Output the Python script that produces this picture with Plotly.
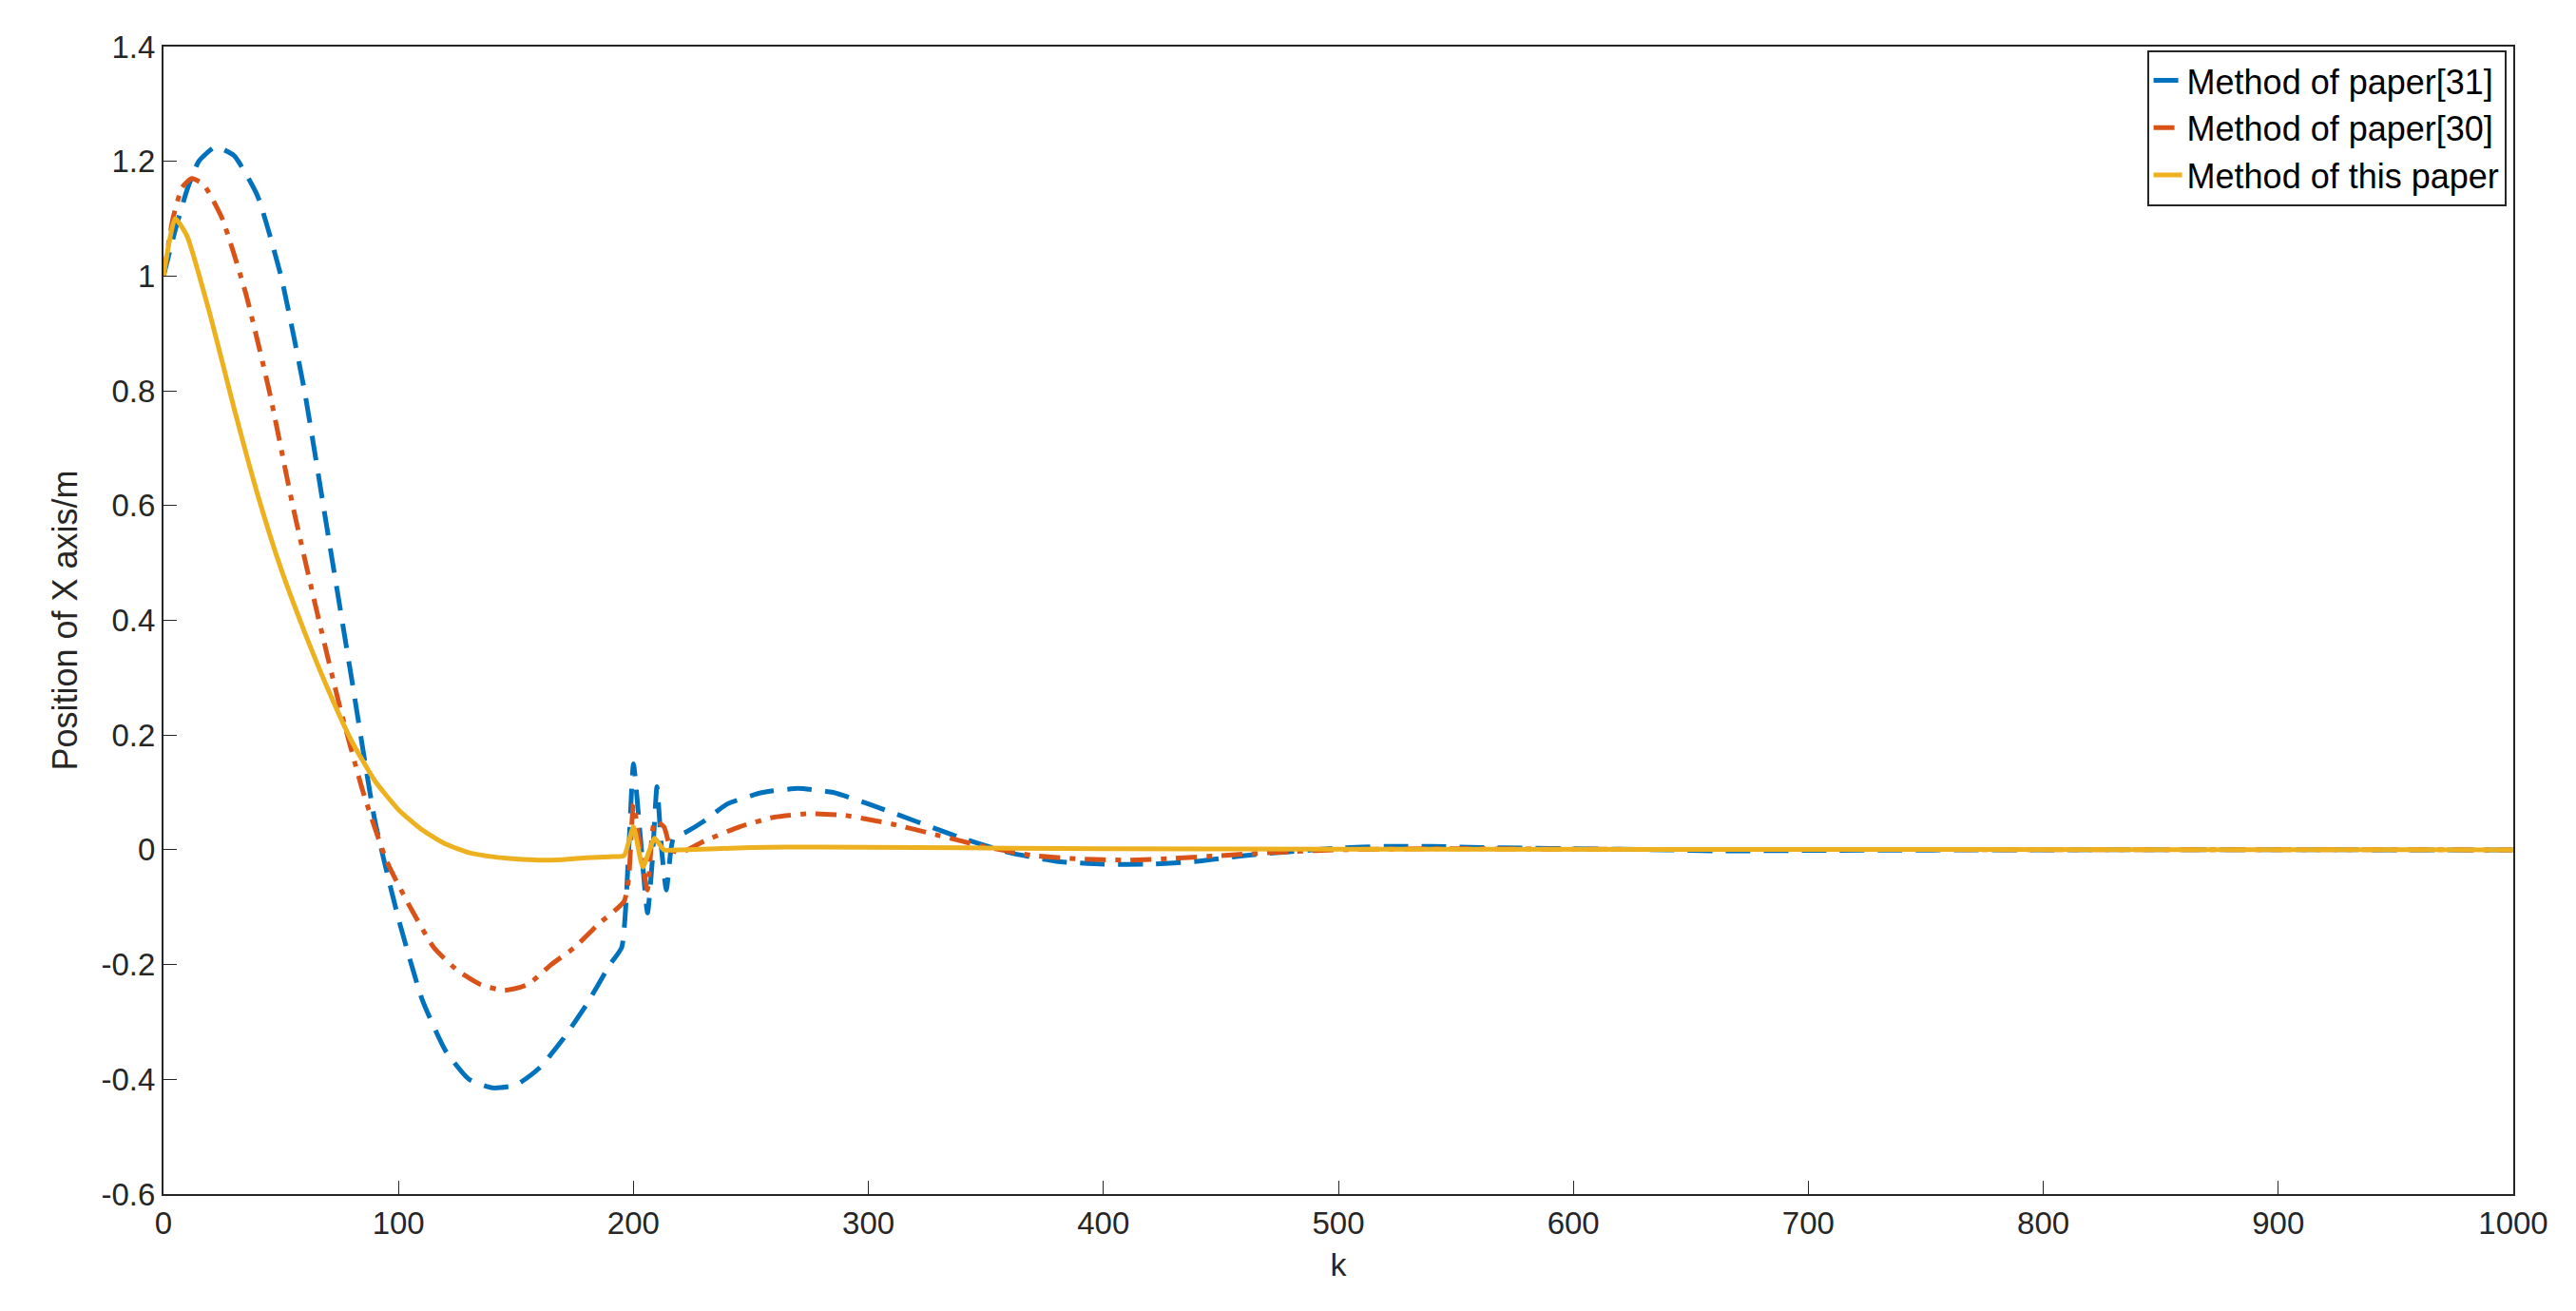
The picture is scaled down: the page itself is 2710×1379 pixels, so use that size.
import plotly.graph_objects as go

# Method of paper[31]
k31 = [0, 5, 10, 15, 22, 30, 40, 50, 60, 70, 80, 90, 100, 110, 120, 130, 140, 150, 160, 170, 180, 190, 195,
       198, 200, 203, 206, 208, 210, 212, 214, 217, 222, 230, 240, 255, 270, 285, 300, 320, 340, 360, 380,
       400, 420, 440, 460, 480, 500, 520, 540, 560, 580, 600, 640, 660, 700, 800, 1000]
y31 = [1.0, 1.08, 1.15, 1.2, 1.225, 1.21, 1.14, 1.0, 0.8, 0.55, 0.3, 0.05, -0.12, -0.26, -0.35, -0.4, -0.415,
       -0.41, -0.38, -0.33, -0.27, -0.2, -0.17, 0.0, 0.15, 0.02, -0.11, -0.02, 0.11, 0.0, -0.07, 0.02, 0.03,
       0.05, 0.08, 0.1, 0.107, 0.1, 0.08, 0.05, 0.02, -0.005, -0.02, -0.025, -0.025, -0.02, -0.01, -0.003,
       0.003, 0.006, 0.006, 0.004, 0.003, 0.002, 0.0, -0.002, -0.001, 0.0, 0.0]

# Method of paper[30]
k30 = [0, 4, 8, 12, 17, 25, 35, 45, 55, 65, 75, 85, 95, 105, 115, 125, 135, 145, 155, 165, 175, 185, 196,
       198, 200, 203, 206, 209, 213, 216, 220, 230, 245, 260, 275, 290, 310, 330, 350, 370, 390, 410, 430,
       450, 480, 500, 540, 600, 1000]
y30 = [1.0, 1.1, 1.155, 1.17, 1.16, 1.1, 0.97, 0.8, 0.6, 0.42, 0.25, 0.1, -0.02, -0.1, -0.17, -0.21, -0.235,
       -0.245, -0.235, -0.2, -0.17, -0.13, -0.09, -0.05, 0.08, 0.0, -0.07, 0.05, 0.04, 0.0, -0.005, 0.015,
       0.04, 0.057, 0.063, 0.06, 0.045, 0.025, 0.005, -0.01, -0.016, -0.018, -0.015, -0.01, -0.003, 0.0,
       0.002, 0.001, 0.0]

# Method of this paper
kt = [0, 5, 10, 20, 30, 40, 50, 60, 70, 80, 90, 100, 110, 120, 130, 140, 150, 160, 170, 180, 190, 196,
      200, 204, 209, 213, 220, 250, 280, 320, 400, 500, 1000]
yt = [1.0, 1.1, 1.07, 0.93, 0.77, 0.62, 0.49, 0.38, 0.28, 0.19, 0.12, 0.07, 0.035, 0.01, -0.005, -0.012,
      -0.016, -0.018, -0.017, -0.014, -0.012, -0.01, 0.04, -0.03, 0.02, 0.0, 0.0, 0.004, 0.005, 0.004,
      0.002, 0.001, 0.0]

ytick_vals = [-0.6, -0.4, -0.2, 0, 0.2, 0.4, 0.6, 0.8, 1, 1.2, 1.4]
ytick_text = ['-0.6', '-0.4', '-0.2', '0', '0.2', '0.4', '0.6', '0.8', '1', '1.2', '1.4']

fig = go.Figure()
fig.add_trace(go.Scatter(x=k31, y=y31, mode='lines', name='Method of paper[31]',
                         line=dict(color='#0072BD', width=5, dash='26px,14px', shape='spline', smoothing=0.5)))
fig.add_trace(go.Scatter(x=k30, y=y30, mode='lines', name='Method of paper[30]',
                         line=dict(color='#D95319', width=5, dash='22px,10px,6px,10px', shape='spline',
                                   smoothing=0.5)))
fig.add_trace(go.Scatter(x=kt, y=yt, mode='lines', name='Method of this paper',
                         line=dict(color='#EDB120', width=5, shape='spline', smoothing=0.5)))

axis_style = dict(showgrid=False, zeroline=False, showline=True, mirror=True, linecolor='#262626',
                  linewidth=2, ticks='inside', ticklen=14, tickcolor='#262626',
                  tickfont=dict(size=33, color='#262626'))
fig.update_xaxes(range=[0, 1000], dtick=100, title=dict(text='k', font=dict(size=34, color='#262626')),
                 **axis_style)
fig.update_yaxes(range=[-0.6, 1.4], tickvals=ytick_vals, ticktext=ytick_text,
                 title=dict(text='Position of X axis/m', font=dict(size=36, color='#262626'), standoff=14),
                 **axis_style)

fig.update_layout(
    width=2710, height=1379,
    plot_bgcolor='white', paper_bgcolor='white',
    font=dict(family='Liberation Sans, Arial, sans-serif'),
    margin=dict(l=164, r=74, t=41, b=131),
    legend=dict(x=0.997, y=0.997, xanchor='right', yanchor='top', bgcolor='white',
                bordercolor='#262626', borderwidth=2, font=dict(size=36, color='#000000')),
)

fig.write_html("out.html")
